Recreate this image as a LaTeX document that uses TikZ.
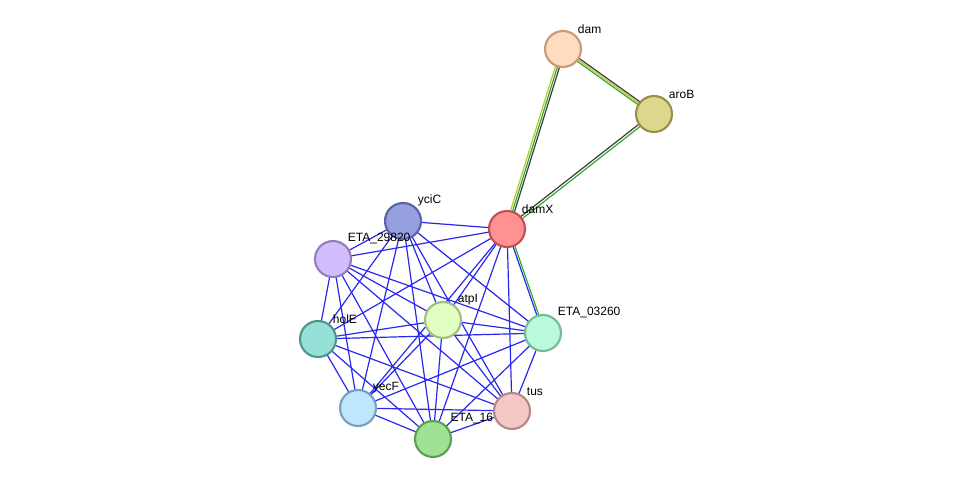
\documentclass[tikz,border=0pt]{standalone}
\usepackage{fontspec}
\setmainfont{Liberation Sans}
\usetikzlibrary{positioning}
\definecolor{ppi}{RGB}{40,40,240}
\definecolor{txtmine}{RGB}{190,200,40}
\definecolor{coexp}{RGB}{50,170,50}
\definecolor{homol}{RGB}{60,60,60}
\begin{document}
\begin{tikzpicture}[x=0.75pt, y=-0.75pt, font=\fontsize{9}{10}\selectfont]
        \tikzset{
           prot/.style={
                        circle,
                        minimum size=27pt,
                        line width=1.6pt,
                        inner sep=0pt
                       },
           lbl/.style={anchor=south west, inner sep=1pt},
           link/.style={ppi, line width=0.9pt},
                 };
    \useasboundingbox (0,0) rectangle (976,485);
    %--------------------
        \coordinate (dam)      at (563,49);
        \coordinate (aroB)     at (654,114);
        \coordinate (damX)     at (507,229);
        \coordinate (yciC)     at (403,221);
        \coordinate (eta29820) at (333,259);
        \coordinate (atpI)     at (443,320);
        \coordinate (holE)     at (318,339);
        \coordinate (eta03260) at (543,333);
        \coordinate (yecF)     at (358,408);
        \coordinate (tus)      at (512,411);
        \coordinate (eta16)    at (433,439);
    %--------------------
        \foreach \a/\rest in {damX/{yciC,eta29820,atpI,holE,eta03260,yecF,tus,eta16},
                              yciC/{eta29820,atpI,holE,eta03260,yecF,tus,eta16},
                              eta29820/{atpI,holE,eta03260,yecF,tus,eta16},
                              atpI/{holE,eta03260,yecF,tus,eta16},
                              holE/{eta03260,yecF,tus,eta16},
                              eta03260/{yecF,tus,eta16},
                              yecF/{tus,eta16},
                              tus/{eta16}}
            \foreach \b in \rest
                \draw[link] (\a) -- (\b);
        \draw[coexp, line width=0.9pt] ([xshift=1.5pt]damX) -- ([xshift=1.5pt]eta03260);
        \draw[txtmine, line width=0.9pt] ([xshift=-1.6pt]dam) -- ([xshift=-1.6pt]damX);
        \draw[coexp, line width=0.9pt] (dam) -- (damX);
        \draw[homol, line width=0.9pt] ([xshift=1.6pt]dam) -- ([xshift=1.6pt]damX);
        \draw[coexp, line width=0.9pt] ([yshift=-1.6pt]dam) -- ([yshift=-1.6pt]aroB);
        \draw[txtmine, line width=0.9pt] (dam) -- (aroB);
        \draw[homol, line width=0.9pt] ([yshift=1.6pt]dam) -- ([yshift=1.6pt]aroB);
        \draw[coexp, line width=0.9pt] ([yshift=-1.2pt]aroB) -- ([yshift=-1.2pt]damX);
        \draw[homol, line width=0.9pt] ([yshift=1.2pt]aroB) -- ([yshift=1.2pt]damX);
    %--------------------
        \node[lbl] (eta16L) at (449,425) {ETA\_16};
        \foreach \n/\f/\d/\t in {dam/{255,220,190}/{200,155,120}/dam,
                                 aroB/{220,215,140}/{150,145,70}/aroB,
                                 damX/{255,145,145}/{195,80,80}/damX,
                                 yciC/{150,160,225}/{90,100,165}/yciC,
                                 eta29820/{210,190,255}/{150,125,190}/ETA\_29820,
                                 atpI/{225,255,195}/{160,190,125}/atpI,
                                 holE/{150,225,215}/{80,150,140}/holE,
                                 eta03260/{185,250,220}/{120,185,150}/ETA\_03260,
                                 yecF/{190,230,255}/{120,160,190}/yecF,
                                 tus/{245,200,200}/{185,135,135}/tus,
                                 eta16/{160,225,150}/{90,160,80}/{}}
        {
            \definecolor{fc}{RGB}{\f}\definecolor{dc}{RGB}{\d}
            \node[prot, fill=fc, draw=dc] (\n N) at (\n) {};
            \node[lbl] at ([xshift=10pt,yshift=10pt]\n) {\t};
        }
    \end{tikzpicture}
\end{document}
